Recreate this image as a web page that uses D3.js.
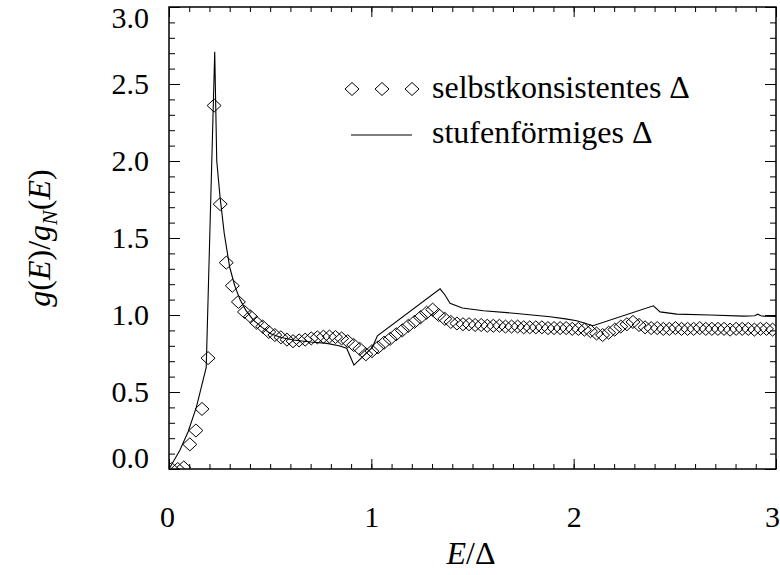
<!DOCTYPE html>
<html>
<head>
<meta charset="utf-8">
<script src="https://cdn.jsdelivr.net/npm/d3@7"></script>
<style>
  body { margin: 0; background: #fff; }
  text { font-family: "Liberation Serif", "Times New Roman", serif; fill: #000; }
</style>
</head>
<body>
<div id="graph"></div>
<script>
// stufenförmiges Delta (solid line)
const lineE = [0, 0.053, 0.094, 0.135, 0.184, 0.226, 0.236, 0.252, 0.273, 0.30, 0.325, 0.351, 0.38, 0.417,
  0.46, 0.50, 0.55, 0.614, 0.70, 0.78, 0.84, 0.878, 0.914, 1.005, 1.03, 1.34, 1.364, 1.389, 1.45, 1.554,
  1.718, 1.883, 1.96, 2.015, 2.06, 2.095, 2.394, 2.427, 2.51, 2.674, 2.84, 2.895, 2.91, 2.925, 2.94, 3.0];
const lineG = [0, 0.12, 0.24, 0.40, 0.66, 2.71, 2.0, 1.77, 1.53, 1.31, 1.19, 1.10, 1.03, 0.967,
  0.92, 0.88, 0.856, 0.838, 0.825, 0.816, 0.80, 0.784, 0.675, 0.79, 0.865, 1.17, 1.13, 1.076, 1.045, 1.028,
  1.01, 0.989, 0.975, 0.963, 0.945, 0.93, 1.06, 1.02, 1.006, 1.0, 0.993, 0.995, 1.005, 0.995, 0.993, 0.99];

// selbstkonsistentes Delta (diamonds)
const dotE = [0.013, 0.043, 0.073, 0.103, 0.133, 0.163, 0.193, 0.223, 0.253, 0.283,
  0.313, 0.343, 0.373, 0.403, 0.433, 0.463, 0.493, 0.523, 0.553, 0.583,
  0.613, 0.643, 0.673, 0.703, 0.733, 0.763, 0.793, 0.823, 0.853, 0.883,
  0.913, 0.943, 0.973, 1.003, 1.033, 1.063, 1.093, 1.123, 1.153, 1.183,
  1.213, 1.243, 1.273, 1.303, 1.333, 1.363, 1.393, 1.423, 1.453, 1.483,
  1.513, 1.543, 1.573, 1.603, 1.633, 1.663, 1.693, 1.723, 1.753, 1.783,
  1.813, 1.843, 1.873, 1.903, 1.933, 1.963, 1.993, 2.023, 2.053, 2.083,
  2.113, 2.143, 2.173, 2.203, 2.233, 2.263, 2.293, 2.323, 2.353, 2.383,
  2.413, 2.443, 2.473, 2.503, 2.533, 2.563, 2.593, 2.623, 2.653, 2.683,
  2.713, 2.743, 2.773, 2.803, 2.833, 2.863, 2.893, 2.923, 2.953, 2.983];
const dotG = [0.0, 0.0, 0.01, 0.16, 0.25, 0.39, 0.72, 2.36, 1.72, 1.34,
  1.19, 1.085, 1.02, 0.99, 0.95, 0.925, 0.89, 0.87, 0.855, 0.84,
  0.83, 0.835, 0.84, 0.848, 0.855, 0.859, 0.86, 0.857, 0.848, 0.83,
  0.805, 0.78, 0.745, 0.765, 0.79, 0.82, 0.845, 0.875, 0.90, 0.93,
  0.955, 0.985, 1.015, 1.035, 1.0, 0.975, 0.955, 0.945, 0.94, 0.94,
  0.935, 0.935, 0.93, 0.93, 0.93, 0.925, 0.925, 0.925, 0.92, 0.92,
  0.92, 0.92, 0.915, 0.915, 0.915, 0.915, 0.91, 0.91, 0.905, 0.895,
  0.88, 0.87, 0.885, 0.905, 0.925, 0.94, 0.955, 0.935, 0.92, 0.915,
  0.915, 0.91, 0.91, 0.915, 0.91, 0.91, 0.91, 0.915, 0.91, 0.91,
  0.91, 0.91, 0.905, 0.91, 0.91, 0.91, 0.905, 0.91, 0.91, 0.905];

const xMajor = [0, 1, 2, 3];
const yMajor = [0, 0.5, 1.0, 1.5, 2.0, 2.5, 3.0];
const xMinor = d3.range(0, 31).map((i) => i / 10);
const yMinor = d3.range(0, 31).map((i) => i / 10);

const legendLabels = ["selbstkonsistentes \u0394", "stufenförmiges \u0394"];

const w = 780;
const h = 575;
const margin = { top: 7, right: 4, bottom: 106, left: 169 };

const x = d3.scaleLinear().domain([0, 3]).range([margin.left, w - margin.right]);
const y = d3.scaleLinear().domain([0, 3]).range([h - margin.bottom, margin.top]);

const svg = d3.select("#graph").append("svg").attr("width", w).attr("height", h);

svg.append("defs").append("clipPath").attr("id", "clip")
  .append("rect")
  .attr("x", x(0)).attr("y", y(3))
  .attr("width", x(3) - x(0)).attr("height", y(0) - y(3));

// ticks on all four sides
function tickAxis(axis, values, size, transform) {
  const g = svg.append("g")
    .attr("transform", transform)
    .call(axis.tickValues(values).tickSize(-size).tickFormat(""));
  g.select(".domain").remove();
  g.selectAll("line").attr("stroke", "#000").attr("stroke-width", 1);
  return g;
}
tickAxis(d3.axisBottom(x), xMinor, 5, `translate(0, ${y(0)})`);
tickAxis(d3.axisBottom(x), xMajor, 10, `translate(0, ${y(0)})`);
tickAxis(d3.axisTop(x), xMinor, 5, `translate(0, ${y(3)})`);
tickAxis(d3.axisTop(x), xMajor, 10, `translate(0, ${y(3)})`);
tickAxis(d3.axisLeft(y), yMinor, 6, `translate(${x(0)}, 0)`);
tickAxis(d3.axisLeft(y), yMajor, 11, `translate(${x(0)}, 0)`);
tickAxis(d3.axisRight(y), yMinor, 6, `translate(${x(3)}, 0)`);
tickAxis(d3.axisRight(y), yMajor, 11, `translate(${x(3)}, 0)`);

// tick labels
const xAxis = svg.append("g")
  .attr("transform", `translate(0, ${y(0)})`)
  .call(d3.axisBottom(x).tickValues(xMajor).tickSize(0).tickPadding(58).tickFormat(d3.format("d")));
xAxis.select(".domain").remove();
xAxis.selectAll("text").style("font-size", "30px").attr("dy", "0")
  .attr("x", (d) => (d === 0 ? -2 : d === 3 ? -4 : 0));

const yAxis = svg.append("g")
  .attr("transform", `translate(${x(0)}, 0)`)
  .call(d3.axisLeft(y).tickValues(yMajor).tickSize(0).tickPadding(20).tickFormat(d3.format(".1f")));
yAxis.select(".domain").remove();
yAxis.selectAll("text").style("font-size", "30px").attr("dy", "0.33em")
  .attr("y", (d) => (d === 0 ? -11 : d === 3 ? 11 : 0));

svg.append("rect")
  .attr("x", x(0)).attr("y", y(3))
  .attr("width", x(3) - x(0)).attr("height", y(0) - y(3))
  .attr("fill", "none").attr("stroke", "#000").attr("stroke-width", 1.5);

// data
const plot = svg.append("g").attr("clip-path", "url(#clip)");

const line = d3.line().x((d, i) => x(lineE[i])).y((d, i) => y(lineG[i]));
plot.append("path")
  .datum(lineE)
  .attr("d", line)
  .attr("fill", "none").attr("stroke", "#000").attr("stroke-width", 1.1);

const diamond = "M0,-6.5L7,0L0,6.5L-7,0Z";
plot.selectAll(".dot")
  .data(dotE)
  .enter()
  .append("path")
  .attr("class", "dot")
  .attr("d", diamond)
  .attr("transform", (d, i) => `translate(${x(d)}, ${y(dotG[i])})`)
  .attr("fill", "none").attr("stroke", "#000").attr("stroke-width", 1);

// legend
const legend = svg.append("g").attr("id", "legend");
[352, 382, 412].forEach((cx) => {
  legend.append("path").attr("d", diamond).attr("transform", `translate(${cx}, 89)`)
    .attr("fill", "none").attr("stroke", "#000").attr("stroke-width", 1);
});
legend.append("line").attr("x1", 351).attr("x2", 412).attr("y1", 135).attr("y2", 135)
  .attr("stroke", "#000").attr("stroke-width", 1.1);
legend.append("text").attr("x", 432).attr("y", 98).style("font-size", "32px").text(legendLabels[0]);
legend.append("text").attr("x", 432).attr("y", 143).style("font-size", "32px").text(legendLabels[1]);

// axis titles
const xt = svg.append("text").attr("x", 471).attr("y", 564)
  .attr("text-anchor", "middle").style("font-size", "32px");
xt.append("tspan").style("font-style", "italic").text("E");
xt.append("tspan").text("/\u0394");

const yt = svg.append("text")
  .attr("transform", "translate(50, 238) rotate(-90)")
  .attr("text-anchor", "middle").style("font-size", "32px");
yt.append("tspan").style("font-style", "italic").text("g");
yt.append("tspan").text("(");
yt.append("tspan").style("font-style", "italic").text("E");
yt.append("tspan").text(")/");
yt.append("tspan").style("font-style", "italic").text("g");
yt.append("tspan").style("font-style", "italic").style("font-size", "22px").attr("dy", 7).text("N");
yt.append("tspan").attr("dy", -7).text("(");
yt.append("tspan").style("font-style", "italic").text("E");
yt.append("tspan").text(")");
</script>
</body>
</html>
